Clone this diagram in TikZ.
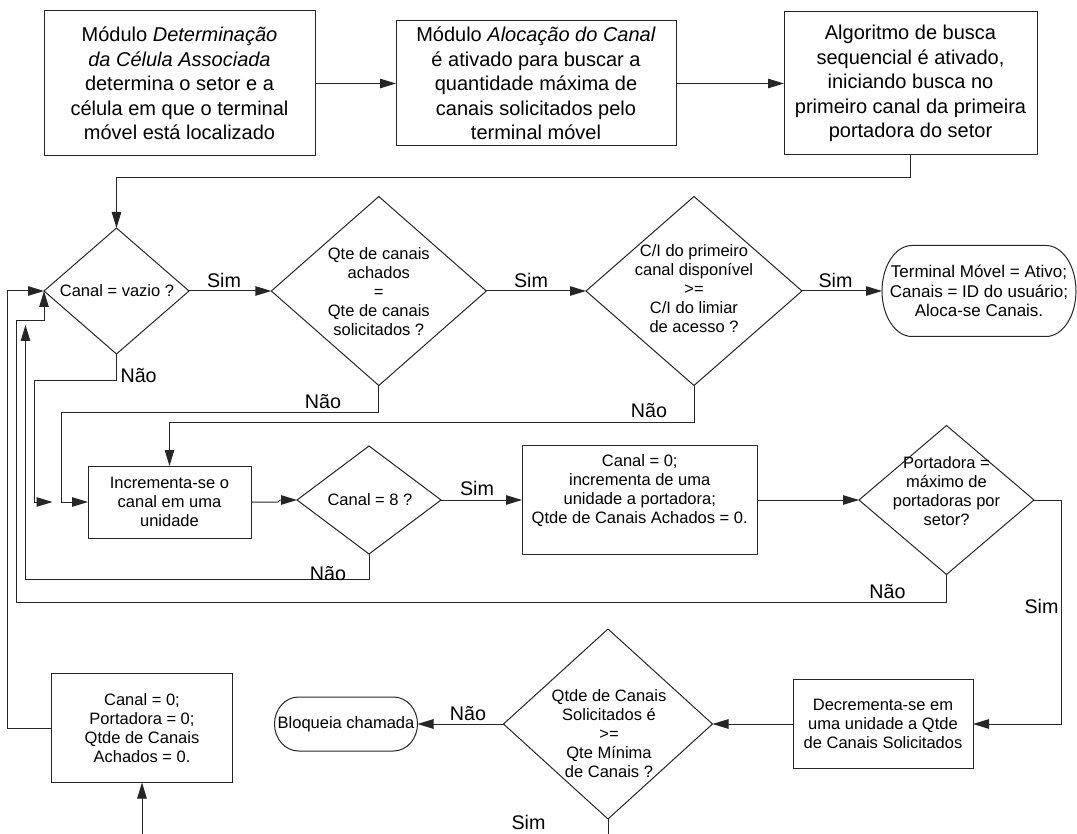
\documentclass[tikz,border=0pt]{standalone}
\usepackage{fontspec}
\setmainfont{Liberation Sans}
\usetikzlibrary{arrows.meta,shapes.geometric}
\begin{document}
\begin{tikzpicture}[x=1pt,y=-1pt,
  ln/.style={line width=1pt, draw=black!85},
  arr/.style={ln, -{Triangle[length=16pt,width=9.5pt]}},
  bigbox/.style={draw=black!85, line width=1pt, rectangle, inner sep=0pt, outer sep=0pt, align=center, font=\fontsize{20}{24.5}\selectfont},
  sbox/.style={draw=black!85, line width=1pt, rectangle, inner sep=0pt, outer sep=0pt, align=center, font=\fontsize{16.5}{19}\selectfont},
  dia/.style={draw=black!85, line width=1pt, diamond, inner sep=0pt, outer sep=0pt},
  plain/.style={rectangle, inner sep=0pt, outer sep=0pt, align=center, font=\fontsize{16.5}{19}\selectfont},
  stxt/.style={align=center, inner sep=0pt, font=\fontsize{16.5}{19}\selectfont},
  lbl/.style={inner sep=0pt, anchor=base, font=\fontsize{19.7}{24}\selectfont},
]
\useasboundingbox (0,0) rectangle (1077,834);

% top row
\node[bigbox, minimum width=271pt, minimum height=145pt] (b1) at (179.5,83.5)
  {Módulo \textit{Determinação}\\\textit{da Célula Associada}\\determina o setor e a\\célula em que o terminal\\móvel está localizado};
\node[bigbox, minimum width=280pt, minimum height=125pt] (b2) at (536,83.5)
  {Módulo \textit{Alocação do Canal}\\é ativado para buscar a\\quantidade máxima de\\canais solicitados pelo\\terminal móvel};
\node[bigbox, minimum width=253pt, minimum height=143pt] (b3) at (910.5,83.5)
  {Algoritmo de busca\\sequencial é ativado,\\iniciando busca no\\primeiro canal da primeira\\portadora do setor};

% row 1
\node[dia, minimum width=145pt, minimum height=126pt] (d1) at (116.5,291) {};
\node[stxt] (d1t) at (117,291) {Canal = vazio ?};
\node[dia, minimum width=215pt, minimum height=189pt] (d2) at (378.8,291) {};
\node[stxt] (d2t) at (378.8,291.5) {Qte de canais\\achados\\=\\Qte de canais\\solicitados ?};
\node[dia, minimum width=216pt, minimum height=189pt] (d3) at (694,291) {};
\node[stxt] (d3t) at (694,289) {C/I do primeiro\\canal disponível\\>=\\C/I do limiar\\de acesso ?};
\node[plain, minimum width=194pt, minimum height=91pt, font=\fontsize{17}{19.5}\selectfont] (t1) at (979,291)
  {Terminal Móvel = Ativo;\\Canais = ID do usuário;\\Aloca-se Canais.};
\draw[ln] ([xshift=30pt]t1.north west) -- ([xshift=-30pt]t1.north east)
  arc[start angle=90, end angle=-90, x radius=30pt, y radius=45.5pt]
  -- ([xshift=30pt]t1.south west)
  arc[start angle=270, end angle=90, x radius=30pt, y radius=45.5pt] -- cycle;

% row 2
\node[sbox, minimum width=163pt, minimum height=72pt] (b4) at (169.5,502)
  {Incrementa-se o\\canal em uma\\unidade};
\node[dia, minimum width=144pt, minimum height=108pt] (d4) at (369,500) {};
\node[stxt] (d4t) at (370,500) {Canal = 8 ?};
\node[sbox, minimum width=235.5pt, minimum height=109pt] (b5) at (639.75,500) {};
\node[stxt] (b5t) at (639.75,491) {Canal = 0;\\incrementa de uma\\unidade a portadora;\\Qtde de Canais Achados = 0.};
\node[dia, minimum width=175pt, minimum height=149pt] (d5) at (946.5,500) {};
\node[stxt] (d5t) at (946.5,491) {Portadora =\\máximo de\\portadoras por\\setor?};

% row 3
\node[sbox, minimum width=181pt, minimum height=109pt] (b6) at (142,728)
  {Canal = 0;\\Portadora = 0;\\Qtde de Canais\\Achados = 0.};
\node[plain, minimum width=143pt, minimum height=54pt] (t2) at (346,724) {Bloqueia chamada};
\draw[ln] ([xshift=24pt]t2.north west) -- ([xshift=-24pt]t2.north east)
  arc[start angle=90, end angle=-90, x radius=24pt, y radius=27pt]
  -- ([xshift=24pt]t2.south west)
  arc[start angle=270, end angle=90, x radius=24pt, y radius=27pt] -- cycle;
\node[dia, minimum width=209pt, minimum height=190pt] (d6) at (608,724) {};
\node[stxt] (d6t) at (609,734) {Qtde de Canais\\Solicitados é\\>=\\Qte Mínima\\de Canais ?};
\node[sbox, minimum width=180pt, minimum height=88.5pt] (b7) at (883,724)
  {Decrementa-se em\\uma unidade a Qtde\\de Canais Solicitados};

% free ends
\coordinate (n1k) at (34,381);
\coordinate (n1e) at (52.5,502);
\coordinate (n2k) at (61,412.7);
\coordinate (n4e) at (25.5,325);
\coordinate (n5k) at (16,321);
\coordinate (bot1) at (142,834);
\coordinate (bot2) at (608,834);

% connectors
\draw[arr] (b1) -- (b2);
\draw[arr] (b2) -- (b3);
\draw[arr] (b3.south) -- ++(0,23) -| (d1.north);
\draw[arr] (d1.east) -- (d2.west);
\draw[arr] (d2.east) -- (d3.west);
\draw[arr] (d3.east) -- (t1.west);
\draw[arr] (d1.south) |- (n1k) |- (n1e);
\draw[arr] (d2.south) |- (n2k) |- (b4.west);
\draw[arr] (d3.south) -- ++(0,37.3) -| (b4.north);
\draw[arr] (b4.east) -- ++(27,0) -- ++(2,-2) -- (d4.west);
\draw[arr] (d4.east) -- (d4.east -| b5.west);
\draw[arr] (b5.east) -- (b5.east -| d5.west);
\draw[arr] (d4.south) -- ++(0,25.5) -| (n4e);
\draw[arr] (d5.south) -- ++(0,28) -| (n5k) -| (d1.west);
\draw[arr] (d5.east) -- ++(27.5,0) |- (b7.east);
\draw[arr] (b7.west) -- (d6.east);
\draw[arr] (d6.west) -- (t2.east);
\draw[ln] (d6.south) -- (bot2);
\draw[arr] (bot1) -- (b6.south);
\draw[arr] (b6.west) -- ++(-44.2,0) |- (d1.west);

% labels
\node[lbl] (s1) at (224,287.3) {Sim};
\node[lbl] (s2) at (531,287.3) {Sim};
\node[lbl] (s3) at (835.5,287.3) {Sim};
\node[lbl] (s4) at (477,495) {Sim};
\node[lbl] (s5) at (1041.5,613) {Sim};
\node[lbl] (s6) at (528.5,829.5) {Sim};
\node[lbl] (no1) at (138.6,383) {Não};
\node[lbl] (no2) at (323,408.3) {Não};
\node[lbl] (no3) at (649,417.7) {Não};
\node[lbl] (no4) at (328,580) {Não};
\node[lbl] (no5) at (887.5,598.3) {Não};
\node[lbl] (no6) at (468,720) {Não};
\end{tikzpicture}
\end{document}
